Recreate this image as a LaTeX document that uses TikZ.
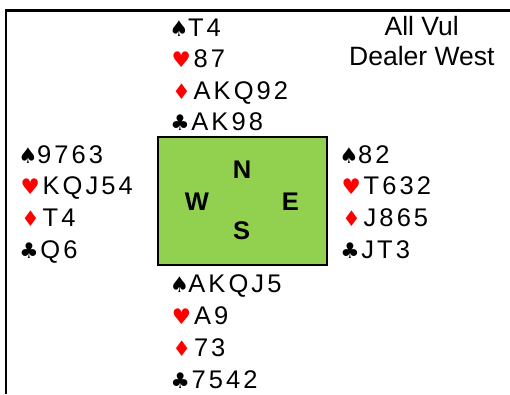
\documentclass[tikz,border=0pt]{standalone}
\usepackage{fontspec}
\setmainfont{Liberation Sans}
\newfontfamily\cardfont[LetterSpace=12]{Liberation Sans}
\newfontfamily\suitfont{DejaVu Sans}
\definecolor{suitred}{RGB}{255,0,0}
\definecolor{boxgreen}{RGB}{146,208,80}
\tikzset{
  cardtext/.style={anchor=base west, inner sep=0pt, font=\cardfont\fontsize{25.5}{28}\selectfont},
  suitsym/.style={anchor=base, inner sep=0pt, font=\suitfont\fontsize{21.5}{26}\selectfont},
  redsuit/.style={suitsym, text=suitred},
  compass/.style={anchor=base, inner sep=0pt, font=\bfseries\fontsize{25.5}{30}\selectfont},
  infolabel/.style={anchor=base, inner sep=0pt, font=\fontsize{26.5}{30}\selectfont},
  board/.style={draw=black, line width=2pt, fill=boxgreen, minimum width=169pt, minimum height=128pt, inner sep=0pt},
}
% #1 name, #2 x, #3 first baseline, #4 spacing, #5 S, #6 H, #7 D, #8 C
\newcommand\cardhand[8]{%
  \node[suitsym] (#1sS) at ({#2+7.4},{#3}) {♠};
  \node[cardtext] (#1tS) at ({#2+16.2},{#3}) {#5};
  \node[redsuit] (#1sH) at ({#2+9.5},{#3+#4}) {♥};
  \node[cardtext] (#1tH) at ({#2+21.8},{#3+#4}) {#6};
  \node[redsuit, xscale=0.95, transform shape] (#1sD) at ({#2+9.8},{#3+2*#4}) {♦};
  \node[cardtext] (#1tD) at ({#2+21.8},{#3+2*#4}) {#7};
  \node[suitsym] (#1sC) at ({#2+8.3},{#3+3*#4}) {♣};
  \node[cardtext] (#1tC) at ({#2+19.5},{#3+3*#4}) {#8};
}
\begin{document}
\begin{tikzpicture}[x=1pt,y=-1pt]
\useasboundingbox (0,0) rectangle (510,394);
\draw[line width=2.3pt] (6.2,394) -- (6.2,10.5) -- (510,10.5);
\node[board] (board) at (242,201.2) {};
\node[compass] (N) at (242,178.7) {N};
\node[compass] (W) at (197,210.3) {W};
\node[compass] (E) at (290.3,210.3) {E};
\node[compass] (S) at (241.7,239.5) {S};
\node[infolabel] (vul) at (421.7,35) {All Vul};
\node[infolabel] (dealer) at (421.8,65.7) {Dealer West};
\cardhand{north}{171.7}{36}{31.6}{T4}{87}{AKQ92}{AK98}
\cardhand{west}{20.7}{163}{31.8}{9763}{KQJ54}{T4}{Q6}
\cardhand{east}{341.7}{163}{31.8}{82}{T632}{J865}{JT3}
\cardhand{south}{172}{292.5}{32}{AKQJ5}{A9}{73}{7542}
\end{tikzpicture}
\end{document}
